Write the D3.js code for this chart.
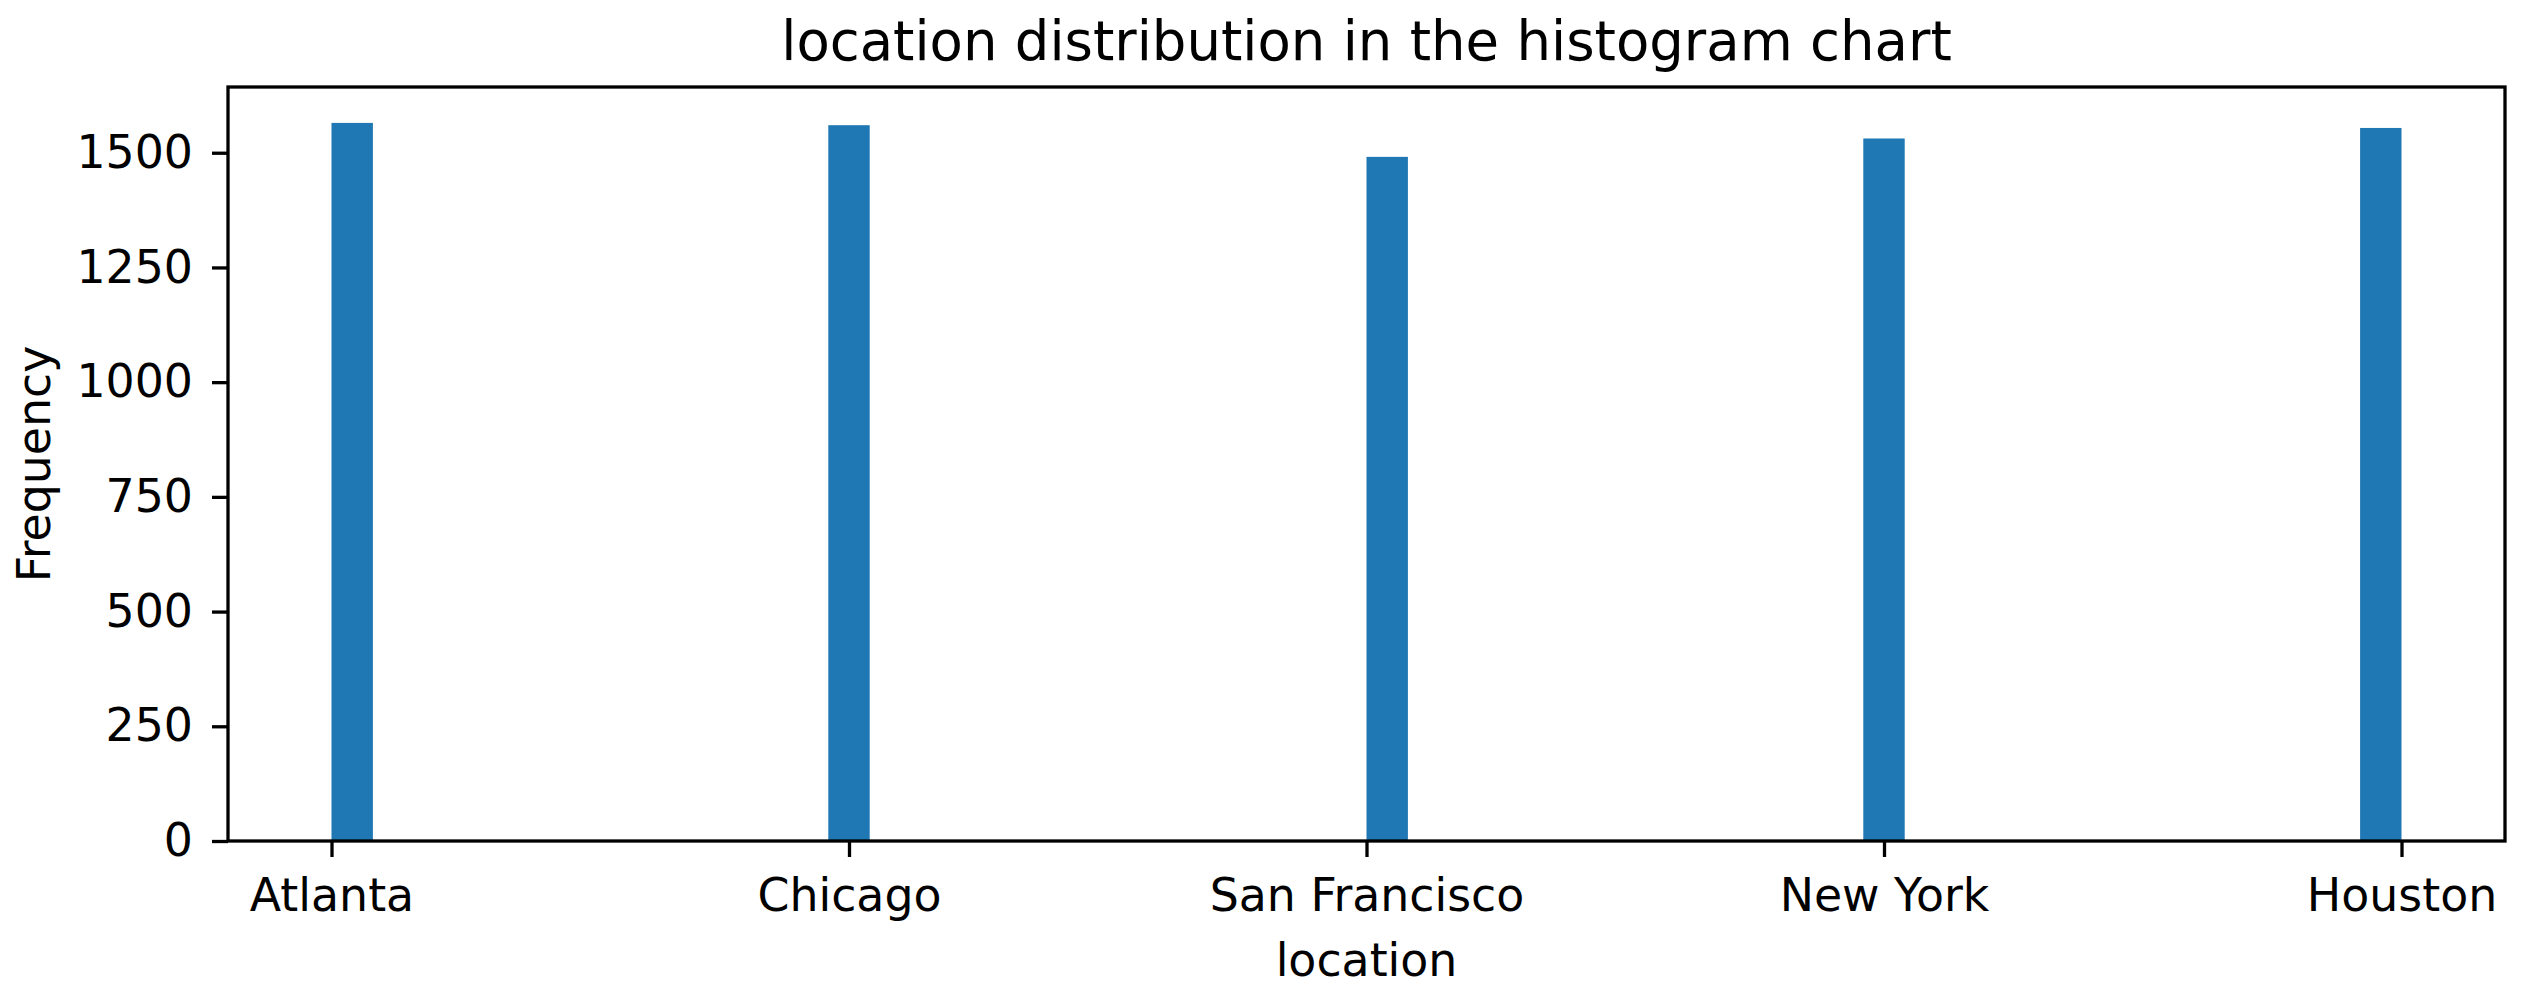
<!DOCTYPE html>
<html>
<head>
<meta charset="utf-8">
<script src="https://cdn.jsdelivr.net/npm/d3@7"></script>
<style>
  html, body { margin: 0; padding: 0; background: #ffffff; }
  svg { display: block; }
  text { font-family: "DejaVu Sans", sans-serif; fill: #000; }
</style>
</head>
<body>
<script>
// ---- data ----
const categories = ["Atlanta", "Chicago", "San Francisco", "New York", "Houston"];
const categoryPositions = [0, 1, 2, 3, 4];
const binLeftEdges = [0, 0.96, 2.0, 2.96, 3.92];
const binWidth = 0.08;
const counts = [1565, 1560, 1491, 1531, 1554];
const yTicks = [0, 250, 500, 750, 1000, 1250, 1500];
const titleText = "location distribution in the histogram chart";
const xLabel = "location";
const yLabel = "Frequency";

// ---- layout ----
const W = 2534, H = 995;
const mLeft = 228, mRight = 2505, mTop = 87, mBottom = 841;
const fontSize = 45.8;

const svg = d3.select("body").append("svg").attr("width", W).attr("height", H);

const x = d3.scaleLinear().domain([-0.2, 4.2]).range([mLeft, mRight]);
const y = d3.scaleLinear().domain([0, d3.max(counts) * 1.05]).range([mBottom, mTop]);

// bars
svg.append("g").selectAll("rect")
  .data(counts)
  .join("rect")
  .attr("x", (d, i) => x(binLeftEdges[i]))
  .attr("width", (d, i) => x(binLeftEdges[i] + binWidth) - x(binLeftEdges[i]))
  .attr("y", d => y(d))
  .attr("height", d => y(0) - y(d))
  .attr("fill", "#1f77b4");

// axes
const xAxis = d3.axisBottom(x)
  .tickValues(categoryPositions)
  .tickFormat(i => categories[i])
  .tickSizeOuter(0).tickSize(16).tickPadding(21);
const gx = svg.append("g").attr("transform", `translate(0,${mBottom})`).call(xAxis);

const yAxis = d3.axisLeft(y)
  .tickValues(yTicks)
  .tickFormat(d3.format("d"))
  .tickSizeOuter(0).tickSize(16).tickPadding(19);
const gy = svg.append("g").attr("transform", `translate(${mLeft},0)`).call(yAxis);

[gx, gy].forEach(g => {
  g.select(".domain").remove();
  g.selectAll(".tick line").attr("stroke", "#000").attr("stroke-width", 3.3);
  g.selectAll(".tick text")
    .style("font-size", fontSize + "px")
    .style("font-family", '"DejaVu Sans", sans-serif')
    .attr("fill", "#000");
});

// frame
svg.append("rect")
  .attr("x", mLeft).attr("y", mTop)
  .attr("width", mRight - mLeft).attr("height", mBottom - mTop)
  .attr("fill", "none").attr("stroke", "#000").attr("stroke-width", 3.3);

// title
svg.append("text")
  .attr("x", (mLeft + mRight) / 2).attr("y", 60)
  .attr("text-anchor", "middle")
  .style("font-size", (fontSize * 1.19) + "px")
  .text(titleText);

// x label
svg.append("text")
  .attr("x", (mLeft + mRight) / 2).attr("y", 976)
  .attr("text-anchor", "middle")
  .style("font-size", fontSize + "px")
  .text(xLabel);

// y label
svg.append("text")
  .attr("transform", `translate(50,${(mTop + mBottom) / 2}) rotate(-90)`)
  .attr("text-anchor", "middle")
  .style("font-size", fontSize + "px")
  .text(yLabel);
</script>
</body>
</html>
